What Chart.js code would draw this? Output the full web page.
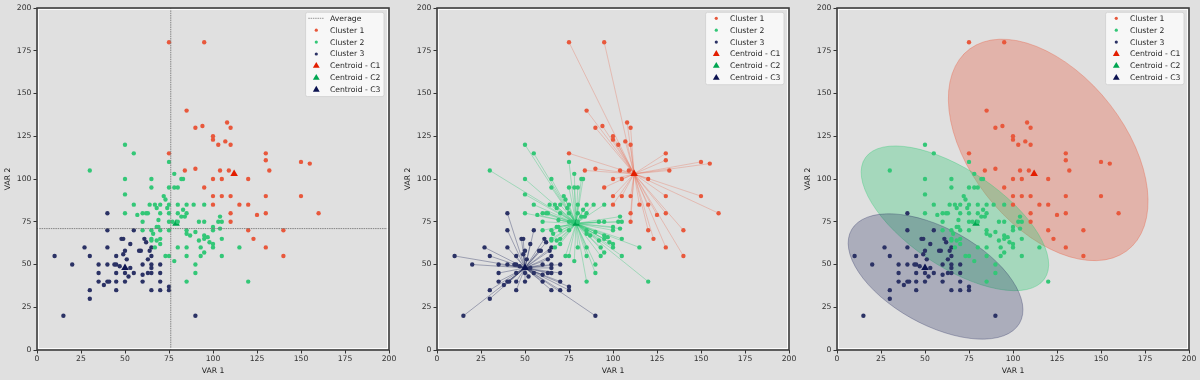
<!DOCTYPE html>
<html>
<head>
<meta charset="utf-8">
<script src="https://cdn.jsdelivr.net/npm/chart.js@4.4.1/dist/chart.umd.min.js"></script>
<style>
  body { margin: 0; background: #e0e0e0; }
  .wrap { display: flex; width: 1200px; height: 380px; }
  .panel { position: relative; width: 400px; height: 380px; }
</style>
</head>
<body>
<div class="wrap">
  <div class="panel"><canvas id="chartAvg"></canvas></div>
  <div class="panel"><canvas id="chartLinks"></canvas></div>
  <div class="panel"><canvas id="chartShapes"></canvas></div>
</div>
<script>
// data (VAR 1, VAR 2)
const cluster1 = [
  [75,180],[95,180],[85,140],[90,130],[94,131],[108,133],[110,130],[100,125],[100,123],[107,122],
  [103,120],[110,120],[75,115],[130,115],[130,111],[150,110],[155,109],[84,105],[90,106],[104,105],
  [109,105],[132,105],[100,100],[105,100],[120,100],[95,95],[100,90],[105,90],[110,90],[130,90],
  [150,90],[100,85],[115,85],[120,85],[110,80],[125,79],[130,80],[160,80],[110,75],[120,70],
  [140,70],[123,65],[130,60],[140,55]
];
const cluster2 = [
  [50,120],[55,115],[75,110],[30,105],[78,103],[50,100],[65,100],[82,100],[83,100],
  [65,95],[75,95],[78,95],[80,95],[50,91],[72,90],[73,88],
  [55,85],[64,85],[67,85],[70,85],[75,85],[80,85],[85,85],[89,85],[95,85],
  [68,83],[74,83],[83,82],
  [50,80],[57,79],[60,80],[62,80],[63,80],[70,80],[75,80],[80,80],[85,80],
  [82,78],[84,78],[104,78],
  [60,75],[69,76],[75,75],[77,75],[80,75],[92,75],[95,75],[103,75],[105,75],
  [68,72],[69,72],[100,72],[104,71],
  [60,70],[65,70],[70,70],[75,70],[85,70],[90,69],[100,70],
  [85,68],[87,67],[66,68],[95,67],[97,66],
  [65,65],[65,64],[68,64],[70,65],[92,64],[95,65],[105,65],[98,63],[100,62],[70,62],
  [67,60],[80,60],[85,60],[93,60],[100,60],[115,60],
  [95,57],[73,55],[75,55],[85,55],[93,55],[105,55],[78,52],[90,50],[90,45],[85,40],[120,40]
];
const cluster3 = [
  [40,80],[40,70],[55,70],[48,65],[49,65],[61,65],[62,63],[53,62],[27,60],[40,60],[65,60],
  [50,58],[58,58],[59,58],[64,58],[49,56],[10,55],[30,55],[45,55],[65,55],[51,53],[63,53],
  [20,50],[35,50],[40,50],[44,50],[45,50],[47,49],[53,48],[60,50],[65,50],[70,50],[65,48],
  [35,45],[45,45],[50,45],[55,45],[60,44],[63,45],[65,45],[70,45],[52,43],
  [35,40],[40,40],[41,40],[45,40],[50,40],[60,40],[70,40],[38,38],
  [30,35],[45,35],[65,35],[70,35],[75,37],[75,35],[30,30],[15,20],[90,20]
];
const centroids = [[112,103],[79,74],[50,48]];
const averageVar1 = 76;
const averageVar2 = 71;
const clusterLabels = ['Cluster 1', 'Cluster 2', 'Cluster 3'];
const centroidLabels = ['Centroid - C1', 'Centroid - C2', 'Centroid - C3'];
const axisTicks = [0, 25, 50, 75, 100, 125, 150, 175, 200];
// ellipses in data units: centre, half axes, angle (deg)
const shapeC1 = { cx: 120, cy: 117, a: 74, b: 44, angle: -53 };
const shapeC2 = { cx: 67, cy: 77, a: 62, b: 28, angle: -35 };
const shapeC3 = { cx: 56, cy: 43, a: 55, b: 28, angle: -30 };

const FONT = 'DejaVu Sans';
const FS = 7.7;
const pointColors = ['#e8583c', '#33c777', '#2b3265'];
const centroidColors = ['#e31e00', '#00a651', '#0b1250'];
const linkColors = ['rgba(232,88,60,0.35)', 'rgba(46,200,115,0.45)', 'rgba(30,38,90,0.45)'];
const shapeFill = ['rgba(232,88,60,0.33)', 'rgba(46,200,115,0.33)', 'rgba(30,38,90,0.27)'];
const shapeEdge = ['rgba(232,88,60,0.35)', 'rgba(46,200,115,0.35)', 'rgba(30,38,90,0.3)'];

// frame round the plot
const framePlugin = {
  id: 'frame',
  afterDraw(chart) {
    const { ctx, chartArea: a } = chart;
    ctx.save();
    ctx.strokeStyle = '#3d3d3d';
    ctx.lineWidth = 1.6;
    ctx.strokeRect(a.left, a.top, a.right - a.left, a.bottom - a.top);
    ctx.strokeStyle = 'rgba(255,255,255,0.9)';
    ctx.lineWidth = 1;
    ctx.strokeRect(a.left + 1.5, a.top + 1.5, a.right - a.left - 3, a.bottom - a.top - 3);
    ctx.restore();
  }
};

// lines from each point to its centroid
const linksPlugin = {
  id: 'links',
  beforeDatasetsDraw(chart, args, opts) {
    if (!opts.on) return;
    const { ctx, scales: { x, y } } = chart;
    ctx.save();
    ctx.lineWidth = 0.8;
    [cluster1, cluster2, cluster3].forEach((pts, i) => {
      const c = centroids[i];
      ctx.strokeStyle = linkColors[i];
      pts.forEach(p => {
        ctx.beginPath();
        ctx.moveTo(x.getPixelForValue(p[0]), y.getPixelForValue(p[1]));
        ctx.lineTo(x.getPixelForValue(c[0]), y.getPixelForValue(c[1]));
        ctx.stroke();
      });
    });
    ctx.restore();
  }
};

// shaded ellipses
const shapesPlugin = {
  id: 'shapes',
  beforeDatasetsDraw(chart, args, opts) {
    if (!opts.on) return;
    const { ctx, scales: { x, y } } = chart;
    const kx = x.getPixelForValue(1) - x.getPixelForValue(0);
    const ky = y.getPixelForValue(0) - y.getPixelForValue(1);
    [shapeC1, shapeC2, shapeC3].forEach((e, i) => {
      ctx.save();
      ctx.beginPath();
      ctx.translate(x.getPixelForValue(e.cx), y.getPixelForValue(e.cy));
      ctx.scale(kx, -ky);
      ctx.rotate(e.angle * Math.PI / 180);
      ctx.ellipse(0, 0, e.a, e.b, 0, 0, Math.PI * 2);
      ctx.restore();
      ctx.save();
      ctx.fillStyle = shapeFill[i];
      ctx.fill();
      ctx.strokeStyle = shapeEdge[i];
      ctx.lineWidth = 1;
      ctx.stroke();
      ctx.restore();
    });
  }
};

// legend box in the top right corner
const boxLegendPlugin = {
  id: 'boxLegend',
  afterDraw(chart, args, opts) {
    const { ctx, chartArea: a } = chart;
    const items = [];
    if (opts.average) items.push({ label: 'Average', kind: 'line' });
    clusterLabels.forEach((l, i) => items.push({ label: l, kind: 'dot', color: pointColors[i] }));
    centroidLabels.forEach((l, i) => items.push({ label: l, kind: 'tri', color: centroidColors[i] }));
    ctx.save();
    ctx.font = FS + 'px "' + FONT + '"';
    const tw = Math.max(...items.map(it => ctx.measureText(it.label).width));
    const pitch = 11.9;
    const w = 24.3 + tw + 3.5;
    const h = pitch * items.length + 1;
    const left = a.right - 5 - w;
    const top = a.top + 4.3;
    ctx.fillStyle = 'rgba(250,250,250,0.85)';
    ctx.strokeStyle = '#cfcfcf';
    ctx.lineWidth = 0.8;
    ctx.beginPath();
    ctx.roundRect(left, top, w, h, 2);
    ctx.fill();
    ctx.stroke();
    items.forEach((it, i) => {
      const cy = top + 6 + i * pitch;
      const mx = left + 10.7;
      if (it.kind === 'line') {
        ctx.strokeStyle = '#8a8a8a';
        ctx.lineWidth = 0.9;
        ctx.setLineDash([1.5, 0.8]);
        ctx.beginPath();
        ctx.moveTo(mx - 8, cy);
        ctx.lineTo(mx + 8, cy);
        ctx.stroke();
        ctx.setLineDash([]);
      } else if (it.kind === 'dot') {
        ctx.fillStyle = it.color;
        ctx.beginPath();
        ctx.arc(mx, cy, 1.6, 0, Math.PI * 2);
        ctx.fill();
      } else {
        const r = 3.9;
        ctx.fillStyle = it.color;
        ctx.beginPath();
        ctx.moveTo(mx, cy - r);
        ctx.lineTo(mx + r * 0.866, cy + r * 0.5);
        ctx.lineTo(mx - r * 0.866, cy + r * 0.5);
        ctx.closePath();
        ctx.fill();
      }
      ctx.fillStyle = '#262626';
      ctx.textBaseline = 'middle';
      ctx.fillText(it.label, left + 24.3, cy + 0.5);
    });
    ctx.restore();
  }
};

function axis(title, isX) {
  return {
    type: 'linear',
    min: 0,
    max: 200,
    afterBuildTicks: s => { s.ticks = axisTicks.map(v => ({ value: v })); },
    afterFit: s => { if (isX) s.height = 30; else s.width = 37; },
    ticks: { font: { family: FONT, size: FS }, color: '#333', padding: isX ? 1 : 2 },
    grid: { display: true, drawOnChartArea: false, drawTicks: true, tickLength: 3.5, color: '#333', lineWidth: 1 },
    border: { display: false },
    title: {
      display: true, text: title, color: '#222',
      font: { family: FONT, size: FS },
      padding: isX ? { top: 0, bottom: 4 } : { top: 3.5, bottom: 0 }
    }
  };
}

function makePanel(id, mode) {
  const datasets = [];
  if (mode === 'avg') {
    datasets.push({
      type: 'line', label: 'Average',
      data: [{ x: averageVar1, y: 0 }, { x: averageVar1, y: 200 }],
      borderColor: '#7a7a7a', borderWidth: 0.9, borderDash: [1.5, 0.8], pointRadius: 0
    });
    datasets.push({
      type: 'line', label: 'Average',
      data: [{ x: 0, y: averageVar2 }, { x: 200, y: averageVar2 }],
      borderColor: '#7a7a7a', borderWidth: 0.9, borderDash: [1.5, 0.8], pointRadius: 0
    });
  }
  [cluster1, cluster2, cluster3].forEach((pts, i) => {
    datasets.push({
      label: clusterLabels[i],
      data: pts.map(p => ({ x: p[0], y: p[1] })),
      backgroundColor: pointColors[i],
      borderWidth: 0,
      pointRadius: 2.2
    });
  });
  centroids.forEach((c, i) => {
    datasets.push({
      label: centroidLabels[i],
      data: [{ x: c[0], y: c[1] }],
      backgroundColor: centroidColors[i],
      borderWidth: 0,
      pointStyle: 'triangle',
      pointRadius: 4.4
    });
  });

  new Chart(document.getElementById(id), {
    type: 'scatter',
    data: { datasets },
    options: {
      responsive: true,
      maintainAspectRatio: false,
      animation: false,
      layout: { padding: { top: 8, right: 11, left: 0, bottom: 0 } },
      scales: { x: axis('VAR 1', true), y: axis('VAR 2', false) },
      plugins: {
        legend: { display: false },
        tooltip: { enabled: false },
        links: { on: mode === 'links' },
        shapes: { on: mode === 'shapes' },
        boxLegend: { average: mode === 'avg' }
      }
    },
    plugins: [framePlugin, linksPlugin, shapesPlugin, boxLegendPlugin]
  });
}

makePanel('chartAvg', 'avg');
makePanel('chartLinks', 'links');
makePanel('chartShapes', 'shapes');
</script>
</body>
</html>
